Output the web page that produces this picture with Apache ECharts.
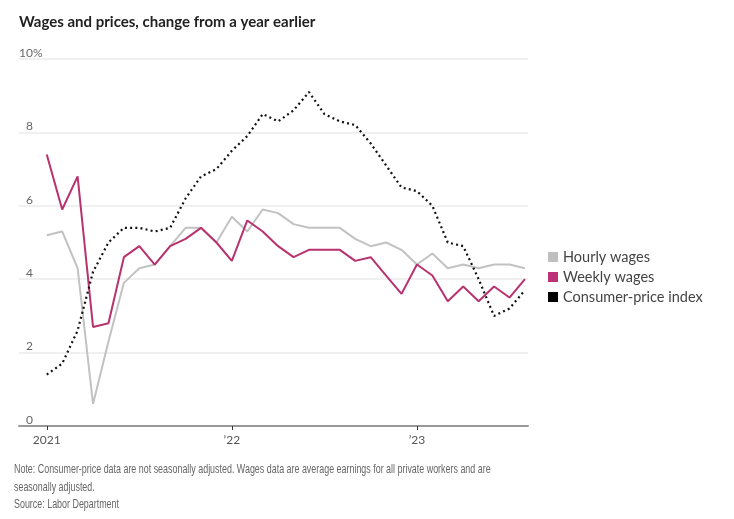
<!DOCTYPE html>
<html>
<head>
<meta charset="utf-8">
<script src="https://cdn.jsdelivr.net/npm/echarts@6/dist/echarts.min.js"></script>
<style>
html,body{margin:0;padding:0;background:#fff;}
#chart{width:734px;height:519px;}
</style>
</head>
<body>
<div id="chart"></div>
<script>
// Months Jan 2021 .. Aug 2023 (index 0..31)
var months = ['2021-01','2021-02','2021-03','2021-04','2021-05','2021-06','2021-07','2021-08','2021-09','2021-10','2021-11','2021-12',
              '2022-01','2022-02','2022-03','2022-04','2022-05','2022-06','2022-07','2022-08','2022-09','2022-10','2022-11','2022-12',
              '2023-01','2023-02','2023-03','2023-04','2023-05','2023-06','2023-07','2023-08'];
var hourlyWages = [5.2,5.3,4.3,0.6,2.3,3.9,4.3,4.4,4.9,5.4,5.4,5.0,
                   5.7,5.3,5.9,5.8,5.5,5.4,5.4,5.4,5.1,4.9,5.0,4.8,
                   4.4,4.7,4.3,4.4,4.3,4.4,4.4,4.3];
var weeklyWages = [7.4,5.9,6.8,2.7,2.8,4.6,4.9,4.4,4.9,5.1,5.4,5.0,
                   4.5,5.6,5.3,4.9,4.6,4.8,4.8,4.8,4.5,4.6,4.1,3.6,
                   4.4,4.1,3.4,3.8,3.4,3.8,3.5,4.0];
var cpi = [1.4,1.7,2.6,4.2,5.0,5.4,5.4,5.3,5.4,6.2,6.8,7.0,
           7.5,7.9,8.5,8.3,8.6,9.1,8.5,8.3,8.2,7.7,7.1,6.5,
           6.4,6.0,5.0,4.9,4.0,3.0,3.2,3.7];
var xTickValues = [0, 12, 24];
var xTickLabels = {0:'2021', 12:'\u201922', 24:'\u201923'};
var yTicks = [0, 2, 4, 6, 8, 10];
var noteLines = ['Note: Consumer-price data are not seasonally adjusted. Wages data are average earnings for all private workers and are',
                 'seasonally adjusted.',
                 'Source: Labor Department'];

function pairs(arr){ return arr.map(function(v,i){ return [i, v]; }); }

var chart = echarts.init(document.getElementById('chart'));
var font = 'Lato, "Noto Sans", sans-serif';
chart.setOption({
  animation: false,
  backgroundColor: '#fff',
  title: [{
    text: 'Wages and prices, change from a year earlier',
    left: 14, top: 10,
    textStyle: {fontFamily: font, fontSize: 15, fontWeight: 'bold', color: '#222'}
  }],
  graphic: [{
    type: 'text', x: 14, y: 461, scaleX: 0.66, silent: true,
    style: {text: noteLines.join('\n'), font: '13.5px "Liberation Sans", sans-serif', fill: '#666', lineHeight: 17.2}
  }],
  legend: {
    orient: 'vertical',
    left: 543, top: 242,
    icon: 'rect', itemWidth: 10, itemHeight: 10, itemGap: 0,
    textStyle: {fontFamily: font, fontSize: 14.5, color: '#444', lineHeight: 20},
    data: ['Hourly wages', 'Weekly wages', 'Consumer-price index']
  },
  grid: {left: 19, right: 206, top: 59, bottom: 93, containLabel: false},
  xAxis: {
    type: 'value', min: -1.8, max: 31.2,
    axisLine: {show: true, lineStyle: {color: '#999', width: 2}},
    axisTick: {show: true, customValues: xTickValues, length: 4, lineStyle: {color: '#333', width: 1}},
    axisLabel: {show: true, customValues: xTickValues, margin: 8, fontFamily: font, fontSize: 12, color: '#555',
      formatter: function(v){ return xTickLabels[v] || ''; }},
    splitLine: {show: false}
  },
  yAxis: {
    type: 'value', min: 0, max: 10, interval: 2,
    axisLine: {show: false}, axisTick: {show: false},
    axisLabel: {inside: true, align: 'left', verticalAlign: 'bottom', margin: 0, fontFamily: font, fontSize: 12, color: '#666',
      formatter: function(v){ return v === 10 ? '10%' : '{s|' + '' + '}{n|' + v + '}'; },
      rich: {s: {width: 7}, n: {fontFamily: font, fontSize: 12, color: '#666'}}},
    splitLine: {show: true, lineStyle: {color: '#ebebeb', width: 1.5}}
  },
  series: [{
    name: 'Hourly wages', type: 'line', data: pairs(hourlyWages), symbol: 'none',
    itemStyle: {color: '#bfbfbf'}, lineStyle: {color: '#c2c2c2', width: 2}, z: 2
  }, {
    name: 'Weekly wages', type: 'line', data: pairs(weeklyWages), symbol: 'none',
    itemStyle: {color: '#bb3278'}, lineStyle: {color: '#b8326f', width: 2}, z: 3
  }, {
    name: 'Consumer-price index', type: 'line', data: pairs(cpi), symbol: 'none',
    itemStyle: {color: '#000'}, lineStyle: {color: '#111', width: 2.2, type: [2, 3.2]}, z: 4
  }]
});
</script>
</body>
</html>
